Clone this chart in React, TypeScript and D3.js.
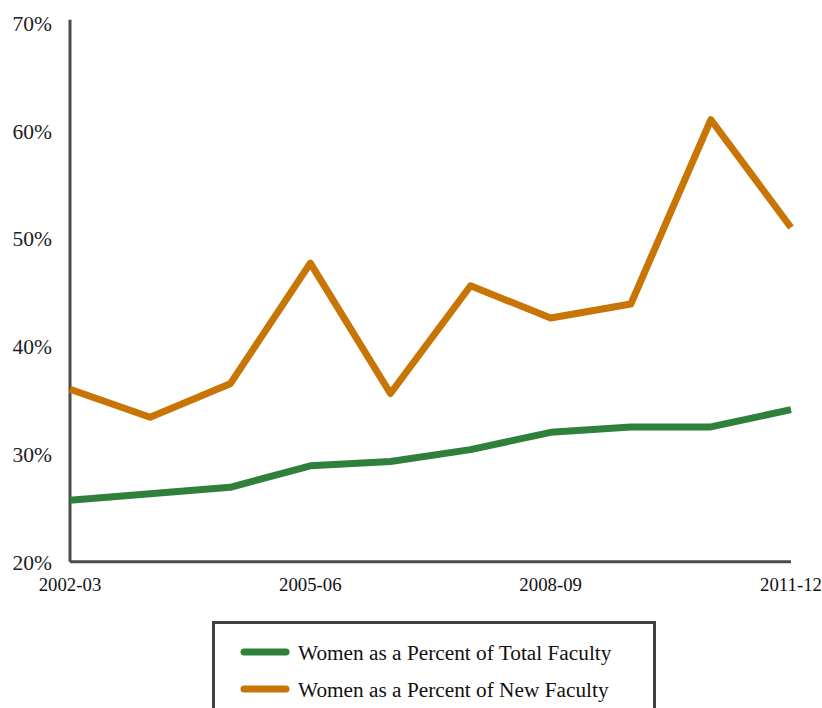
import React from "react";
import * as d3 from "d3";

const years = ["2002-03","2003-04","2004-05","2005-06","2006-07","2007-08","2008-09","2009-10","2010-11","2011-12"];
const totalFaculty = [25.7, 26.3, 26.9, 28.9, 29.3, 30.4, 32.0, 32.5, 32.5, 34.1];
const newFaculty = [36.0, 33.4, 36.5, 47.7, 35.6, 45.6, 42.6, 43.9, 61.0, 51.0];
const yTicks = [20, 30, 40, 50, 60, 70];
const xLabels = ["2002-03", "2005-06", "2008-09", "2011-12"];
const seriesNames = ["Women as a Percent of Total Faculty", "Women as a Percent of New Faculty"];
const colors = ["#2e803a", "#c97505"];

export default function App() {
  const W = 822, H = 708;
  const left = 70, right = 791, top = 22.7, bottom = 561.7;
  const x = d3.scalePoint<string>().domain(years).range([left, right]);
  const y = d3.scaleLinear().domain([20, 70]).range([bottom, top]);
  const line = d3.line<number>().x((_, i) => x(years[i])!).y(d => y(d));
  const font = "'Liberation Serif', 'Times New Roman', serif";
  return (
    <svg width={W} height={H} style={{ position: "absolute", left: 0, top: 0 }} fontFamily={font}>
      <rect width={W} height={H} fill="#fff" />
      {yTicks.map(t => (
        <text key={t} x={52} y={y(t) + 1} textAnchor="end" dominantBaseline="central" fontSize={21.5} fill="#222">{t}%</text>
      ))}
      {xLabels.map(l => (
        <text key={l} x={x(l)!} y={584} textAnchor="middle" dominantBaseline="central" fontSize={18.8} fill="#111">{l}</text>
      ))}
      <line x1={left} x2={left} y1={top - 3} y2={bottom} stroke="#4d4d4d" strokeWidth={3} />
      <line x1={left} x2={right} y1={bottom} y2={bottom} stroke="#4d4d4d" strokeWidth={3} />
      <path d={line(totalFaculty)!} fill="none" stroke={colors[0]} strokeWidth={7} strokeLinejoin="round" />
      <path d={line(newFaculty)!} fill="none" stroke={colors[1]} strokeWidth={7} strokeLinejoin="round" />
      <rect x={213.5} y={622.5} width={441} height={100} fill="#fff" stroke="#404040" strokeWidth={3} />
      {seriesNames.map((n, i) => (
        <g key={n} transform={`translate(0, ${652 + i * 37})`}>
          <line x1={244} x2={286} y1={0} y2={0} stroke={colors[i]} strokeWidth={7} strokeLinecap="round" />
          <text x={298} y={1} dominantBaseline="central" fontSize={21.3} fill="#111">{n}</text>
        </g>
      ))}
    </svg>
  );
}
